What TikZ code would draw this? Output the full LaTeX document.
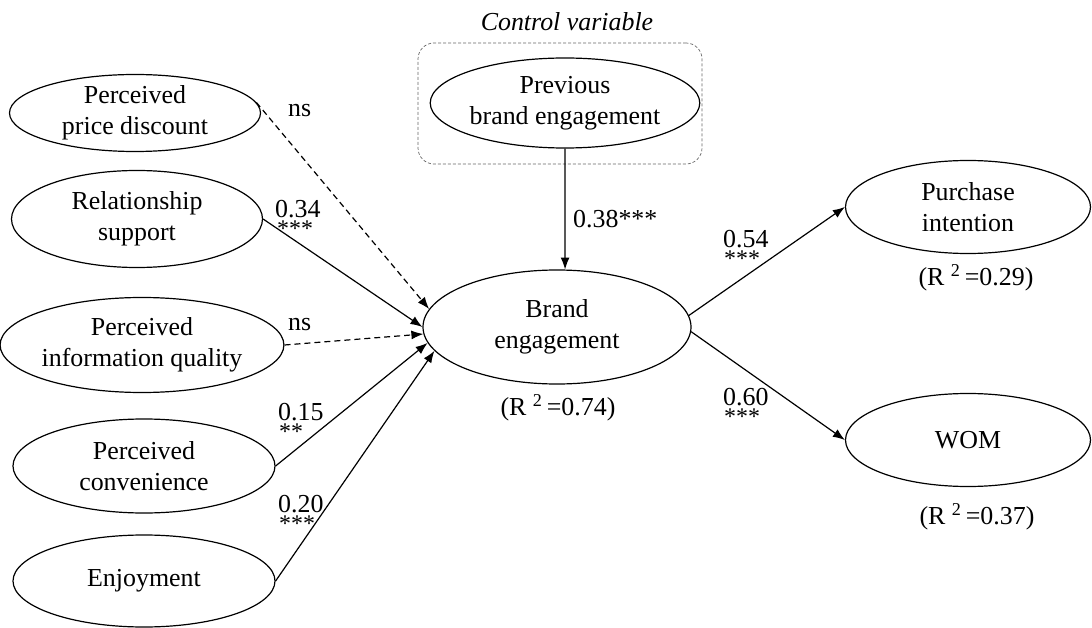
\documentclass[tikz,border=0pt]{standalone}
\usepackage{fontspec}
\setmainfont{Liberation Serif}
\usetikzlibrary{shapes.geometric,arrows.meta}
\begin{document}
\begin{tikzpicture}[x=1bp,y=-1bp,
  every node/.style={font=\fontsize{26}{31}\selectfont, inner sep=0pt},
  latent/.style={draw, ellipse, line width=1.2bp, align=center},
  path/.style={line width=1.2bp, -{Latex[length=12bp,width=9bp]}},
  nspath/.style={path, dash pattern=on 6bp off 4bp},
  coef/.style={anchor=base west},
  stars/.style={anchor=base west, font=\fontsize{24}{24}\selectfont},
  ctrlbox/.style={draw=black!60, line width=0.7bp, dash pattern=on 3bp off 2bp, rounded corners=16bp}
]
\useasboundingbox (0,0) rectangle (1092,628);

% control box
\node[ctrlbox, minimum width=284bp, minimum height=121bp] (ctrl) at (560,103.5) {};
\node[font=\fontsize{26}{31}\selectfont\itshape] (ctrllab) at (567,22) {Control variable};

% latent variables
\node[latent, minimum width=251bp, minimum height=77bp] (pd) at (135,113) {Perceived\\price discount};
\node[latent, minimum width=251bp, minimum height=97bp] (rs) at (137,219) {Relationship\\support};
\node[latent, minimum width=260bp, minimum height=95bp] (iq) at (142,345) {Perceived\\information quality};
\node[latent, minimum width=262bp, minimum height=94bp] (pc) at (144,466) {Perceived\\convenience};
\node[latent, minimum width=262bp, minimum height=92bp] (en) at (144,581) {Enjoyment};
\node[latent, minimum width=250bp, minimum height=90bp] (prev) at (565,103) {Previous\\brand engagement};
\node[latent, minimum width=268bp, minimum height=114bp] (be) at (557,327) {Brand\\engagement};
\node[latent, minimum width=245bp, minimum height=93bp] (pi) at (968,207) {Purchase\\intention};
\node[latent, minimum width=245bp, minimum height=93bp] (wom) at (968,440) {WOM};

% R-squared
\node (r1) at (558,408) {(R \textsuperscript{2}\,=0.74)};
\node (r2) at (976,278) {(R \textsuperscript{2}\,=0.29)};
\node (r3) at (977,517) {(R \textsuperscript{2}\,=0.37)};

% paths
\draw[nspath] (pd.5) -- (be.172);
\draw[path] (rs.east) -- (be.180);
\draw[nspath] (iq.east) -- (be.183);
\draw[path] (pc.east) -- (be.187);
\draw[path] (en.east) -- (be.191);
\draw[path] (prev.south) -- (be.82);
\draw[path] (be.5) -- (pi.west);
\draw[path] (be.-2) -- (wom.west);

% coefficients
\node[coef] (c1) at (288,117) {ns};
\node[coef] (c2) at (275,218) {0.34};
\node[stars] (s2) at (277,237) {***};
\node[coef] (c3) at (288,330) {ns};
\node[coef] (c4) at (278,420) {0.15};
\node[stars] (s4) at (279,439) {**};
\node[coef] (c5) at (278,512) {0.20};
\node[stars] (s5) at (279,531) {***};
\node[coef] (c6) at (573,228) {0.38***};
\node[coef] (c7) at (723,248) {0.54};
\node[stars] (s7) at (724,267) {***};
\node[coef] (c8) at (723,405) {0.60};
\node[stars] (s8) at (724,424) {***};
\end{tikzpicture}
\end{document}
